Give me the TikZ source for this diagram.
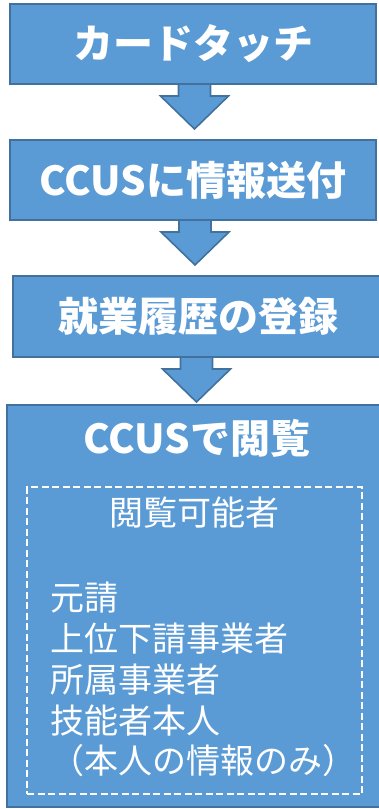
\documentclass[tikz,border=0pt]{standalone}
\usepackage{fontspec}
\newfontfamily\jp{Noto Sans CJK JP}
\definecolor{boxfill}{HTML}{5B9BD5}
\definecolor{boxline}{HTML}{41719C}
\tikzset{
  flowbox/.style={draw=boxline, fill=boxfill, line width=2pt, inner sep=0pt, outer sep=0pt,
    text=white, font=\jp\bfseries\fontsize{40}{46}\selectfont},
  blockarrow/.style={fill=boxfill, draw=boxline, line width=1.6pt, line join=miter},
  listline/.style={anchor=west, inner sep=0pt, text=white, font=\jp\fontsize{34}{41}\selectfont},
  dashframe/.style={draw=white, line width=2pt, dash pattern=on 7pt off 3.5pt},
}
\begin{document}
\begin{tikzpicture}[x=1pt, y=-1pt]
\useasboundingbox (0,0) rectangle (378,809);
% boxes
\node[flowbox, minimum width=366pt, minimum height=80pt] (b1) at (193,44) {カードタッチ};
\node[flowbox, minimum width=366pt, minimum height=80pt] (b2) at (193,180) {CCUSに情報送付};
\node[flowbox, minimum width=370pt, minimum height=81pt] (b3) at (198,316.5) {就業履歴の登録};
\node[flowbox, minimum width=382pt, minimum height=402pt] (b4) at (198,606) {};
% arrows
\coordinate (a1) at (194.5,84);
\coordinate (a2) at (195,220);
\coordinate (a3) at (196.5,357);
\foreach \a in {a1,a2,a3}{
  \path[blockarrow] (\a) ++(-16,0) -- ++(0,12) -- ++(-18,0) -- ++(34,33) -- ++(34,-33) -- ++(-18,0) -- ++(0,-12) -- cycle;
}
% fix top edges of arrows (cover the inner line with box fill border)
\foreach \b in {b1,b2,b3}{
  \draw[boxline, line width=2pt] (\b.south west) -- (\b.south east);
}
\node[text=white, inner sep=0pt, font=\jp\bfseries\fontsize{40}{46}\selectfont] (t4) at (197,438) {CCUSで閲覧};
\node[dashframe, minimum width=335pt, minimum height=307pt, inner sep=0pt] (frame) at (194.5,640.5) {};
\node[text=white, inner sep=0pt, font=\jp\fontsize{34}{41}\selectfont] (lab) at (194,513) {閲覧可能者};
\node[listline] (l1) at (50,598) {元請};
\node[listline] (l2) at (50,638.5) {上位下請事業者};
\node[listline] (l3) at (50,679.5) {所属事業者};
\node[listline] (l4) at (50,720.5) {技能者本人};
\node[listline] (l5) at (50,761) {（本人の情報のみ）};
\end{tikzpicture}
\end{document}
